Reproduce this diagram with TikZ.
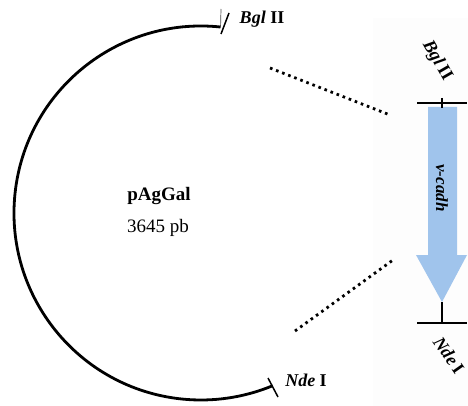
\documentclass[tikz,border=0pt]{standalone}
\usepackage{fontspec}
\setmainfont{Liberation Serif}
\definecolor{insertblue}{RGB}{160,196,236}
\definecolor{panelgray}{RGB}{253,253,253}
\begin{document}
\begin{tikzpicture}[x=1pt,y=-1pt,
  plasmid/.style={line width=2.8pt},
  cutmark/.style={line width=1.5pt},
  bar/.style={line width=2pt},
  guide/.style={line width=2.8pt, dash pattern=on 2.6pt off 3.9pt},
  sitelabel/.style={inner sep=0pt, font=\fontsize{18}{20}\selectfont},
  smallsite/.style={inner sep=0pt, font=\fontsize{17}{19}\selectfont},
  title/.style={inner sep=0pt, font=\fontsize{19}{21}\selectfont}]
\useasboundingbox (0,0) rectangle (468,406);
% insert panel
\fill[panelgray] (373,18) rectangle (468,406);

% plasmid backbone
\coordinate (ctr) at (201,213);
\draw[plasmid] (ctr) ++(-84:187) coordinate (bglend)
  arc[start angle=-84, end angle=-292.5, radius=187] coordinate (ndeend);

% restriction sites on the plasmid
\coordinate (bgla) at (229,13);
\coordinate (bglb) at (221,34);
\draw[cutmark] (bgla) -- (bglb);
\draw[line width=0.7pt, black!70] (221,9) -- (bglend);
\coordinate (ndea) at (268,378);
\coordinate (ndeb) at (278,397);
\draw[cutmark] (ndea) -- (ndeb);

\node[sitelabel] (bgl) at (262,19) {\textbf{\textit{Bgl}} \textbf{II}};
\node[sitelabel] (nde) at (306,380) {\textbf{\textit{Nde}} \textbf{I}};

\node[title] (name) at (159,196) {\textbf{pAgGal}};
\node[title] (size) at (158,228) {3645 pb};

% insert: v-cadh
\coordinate (topl) at (417,103);
\coordinate (topr) at (467,103);
\coordinate (botl) at (417,323);
\coordinate (botr) at (467,323);
\fill[insertblue] (428,107) -- (457,107) -- (457,255) -- (467,255)
  -- (442,302) -- (416,255) -- (428,255) -- cycle;
\draw[bar] (topl) -- (topr);
\draw[bar] (442,98) -- (442,108);
\draw[bar] (botl) -- (botr);
\draw[bar] (442,302) -- (442,323);
\node[smallsite, rotate=-90] (gene) at (442,188) {\textbf{\textit{v-cadh}}};
\node[smallsite, rotate=-60, font=\fontsize{18}{20}\selectfont] (bgl2) at (437,61) {\textbf{\textit{Bgl}}\,\textbf{II}};
\node[smallsite, rotate=-55, font=\fontsize{18}{20}\selectfont] (nde2) at (449,355) {\textbf{\textit{Nde}}\,\textbf{I}};

% guides from the plasmid to the insert
\coordinate (g1a) at (270,68);
\coordinate (g1b) at (390,115);
\coordinate (g2a) at (295,331);
\coordinate (g2b) at (393,260);
\draw[guide] (g1a) -- (g1b);
\draw[guide] (g2a) -- (g2b);
\end{tikzpicture}
\end{document}
